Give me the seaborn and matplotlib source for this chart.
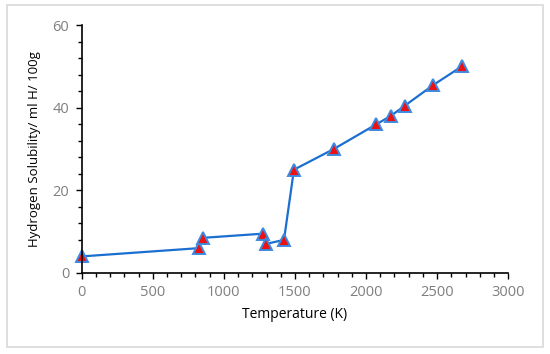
import matplotlib
matplotlib.use("Agg")
import matplotlib.pyplot as plt
import seaborn as sns
import pandas as pd
from matplotlib.patches import Rectangle
from matplotlib.ticker import MultipleLocator

temperature = [0, 823, 853, 1273, 1293, 1423, 1493, 1773, 2073, 2173, 2273, 2473, 2673]
solubility = [4, 6, 8.5, 9.5, 7, 8, 25, 30, 36, 38, 40.5, 45.5, 50]
x_label = "Temperature (K)"
y_label = "Hydrogen Solubility/ ml H/ 100g"

df = pd.DataFrame({"T": temperature, "S": solubility})

sns.set_style("white")
plt.rcParams['font.family'] = ['Open Sans', 'DejaVu Sans']

fig = plt.figure(figsize=(5.5, 3.54), dpi=100)
ax = fig.add_axes([0.1485, 0.229, 0.924 - 0.1485, 0.929 - 0.229])

sns.lineplot(data=df, x="T", y="S", ax=ax, color="#1a6fd0", linewidth=1.6,
             marker="^", markersize=8, markerfacecolor="#ee1111",
             markeredgecolor="#3d8ae0", markeredgewidth=1.4, sort=False)

ax.set_xlim(0, 3000)
ax.set_ylim(0, 60)
ax.xaxis.set_major_locator(MultipleLocator(500))
ax.xaxis.set_minor_locator(MultipleLocator(100))
ax.yaxis.set_major_locator(MultipleLocator(20))
ax.yaxis.set_minor_locator(MultipleLocator(4))
ax.tick_params(axis="both", which="major", direction="out", length=4, width=1,
               color="black", labelsize=10.5, labelcolor="#7f7f7f", pad=5,
               bottom=True, left=True)
ax.tick_params(axis="both", which="minor", direction="out", length=3, width=1,
               color="black", bottom=True, left=True)
for s in ["top", "right"]:
    ax.spines[s].set_visible(False)
for s in ["left", "bottom"]:
    ax.spines[s].set_color("black")
    ax.spines[s].set_linewidth(1.2)
ax.set_xlabel(x_label, fontsize=10, color="black", labelpad=5)
ax.set_ylabel(y_label, fontsize=9.5, color="black", labelpad=8)
for line in ax.lines:
    line.set_clip_on(False)

fig.patches.append(Rectangle((7 / 550, 1 - 347 / 354), 536 / 550, 342 / 354,
                             transform=fig.transFigure, fill=False,
                             edgecolor="#d9d9d9", linewidth=1.2))
fig.savefig("out.png", dpi=100)
